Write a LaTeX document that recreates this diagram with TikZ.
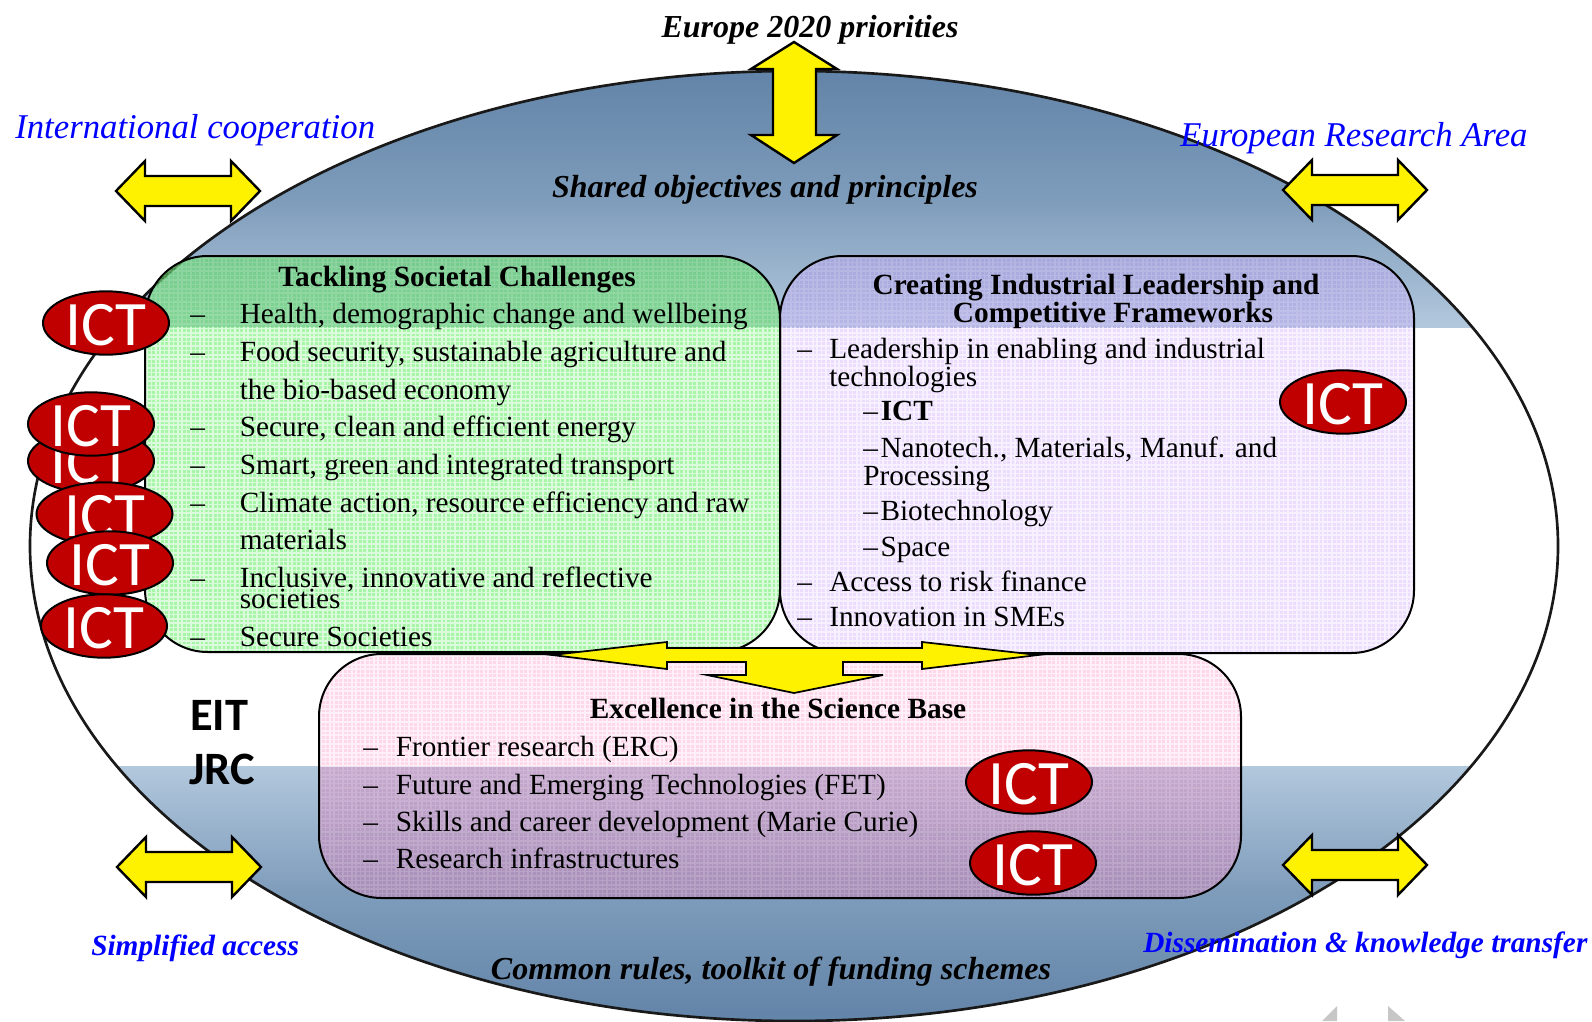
\documentclass[tikz,border=0pt]{standalone}
\usepackage{fontspec}
\setmainfont{Liberation Serif}
\newfontfamily\calib{Carlito}
\definecolor{bandDark}{RGB}{98,132,168}
\definecolor{bandLight}{RGB}{178,200,221}
\definecolor{ictred}{RGB}{192,0,0}
\definecolor{boxgreen}{RGB}{91,225,91}
\definecolor{greenlift}{RGB}{170,255,170}
\definecolor{boxpurple}{RGB}{197,151,255}
\definecolor{boxpink}{RGB}{255,20,137}
\definecolor{pinklift}{RGB}{235,175,210}
\definecolor{bluetext}{RGB}{0,0,255}
\usetikzlibrary{shapes.geometric}
\tikzset{
  x=0.75pt,y=-0.75pt,
  arrowshape/.style={draw=black,line width=1.8pt,fill=yellow,line join=miter},
  boxshape/.style={draw=black,line width=1.5pt,rounded corners=47pt},
  boxfill/.style={rounded corners=47pt},
  gridline/.style={draw=white,line width=1.2pt},
  ict/.style={ellipse,draw=black,line width=1.5pt,fill=ictred,text=white,inner sep=0pt,
     minimum width=94.5pt,minimum height=47pt,text height=33.6pt,text depth=0pt,
     font=\calib\fontsize{47.5}{47.5}\selectfont},
  bodytext/.style={anchor=base west,inner sep=0pt,font=\fontsize{21.95}{24}\selectfont},
  boldtitle/.style={anchor=base,inner sep=0pt,font=\bfseries\fontsize{22}{24}\selectfont},
  bigbi/.style={anchor=base,inner sep=0pt,font=\bfseries\itshape\fontsize{24}{26}\selectfont},
  blueit/.style={anchor=base west,inner sep=0pt,text=bluetext,font=\itshape\fontsize{26.05}{28}\selectfont},
  bluebi/.style={anchor=base west,inner sep=0pt,text=bluetext,font=\bfseries\itshape\fontsize{22}{24}\selectfont},
  eitjrc/.style={anchor=base west,inner sep=0pt,font=\calib\bfseries\fontsize{34.8}{36}\selectfont}
}
\newcommand{\HArrow}[2]{% centre x, centre y
  \draw[arrowshape] (#1-72,#2) -- (#1-43,#2-30) -- (#1-43,#2-15) -- (#1+43,#2-15) -- (#1+43,#2-30)
    -- (#1+72,#2) -- (#1+43,#2+30) -- (#1+43,#2+15) -- (#1-43,#2+15) -- (#1-43,#2+30) -- cycle;}
\newcommand{\BodyLine}[5]{% name dashx textx y text
  \node[bodytext] (#1d) at (#2,#4) {–};
  \node[bodytext] (#1) at (#3,#4) {#5};}
\newcommand{\SubDash}{–\hspace{2pt}}
% woven texture: x0 y0 x1 y1 ; x-list ; y-list
\newcommand{\Texture}[6]{%
  \begin{scope}
    \clip[boxfill] (#1,#2) rectangle (#3,#4);
    \begin{scope}
      \clip (0,327) rectangle (1592,766);
      \draw[gridline,opacity=.6]
        \foreach \gx in {#5} {(\gx,#2) -- (\gx,#4)}
        \foreach \gy in {#6} {(#1,\gy) -- (#3,\gy)};
    \end{scope}
    \begin{scope}
      \clip (0,0) rectangle (1592,327) (0,766) rectangle (1592,1021);
      \draw[gridline,opacity=.16]
        \foreach \gx in {#5} {(\gx,#2) -- (\gx,#4)}
        \foreach \gy in {#6} {(#1,\gy) -- (#3,\gy)};
    \end{scope}
  \end{scope}}
\begin{document}
\begin{tikzpicture}
\useasboundingbox (0,0) rectangle (1592,1021);
% ellipse bands
\begin{scope}
  \clip (794,546) ellipse [x radius=764,y radius=475];
  \shade[top color=bandDark,bottom color=bandLight,middle color=bandDark!65!bandLight] (0,71) rectangle (1592,327);
  \shade[top color=bandLight,bottom color=bandDark,middle color=bandDark!65!bandLight] (0,766) rectangle (1592,1021);
\end{scope}
\draw[black!90,line width=2pt] (794,546) ellipse [x radius=764,y radius=475];
% faint marks at bottom right
\fill[black!22] (1322,1021) -- (1337,1006) -- (1337,1021) -- cycle;
\fill[black!22] (1388,1021) -- (1388,1006) -- (1405,1021) -- cycle;
% boxes
\path[fill=boxgreen,fill opacity=.55,boxfill] (145,256) rectangle (780,652);
\path[fill=boxpurple,fill opacity=.33,boxfill] (780,256) rectangle (1414,653);
\path[fill=boxpink,fill opacity=.17,boxfill] (319,654) rectangle (1241,898);
\begin{scope}
  \clip[boxfill] (145,256) rectangle (780,652);
  \fill[greenlift,fill opacity=.5] (145,327) rectangle (780,652);
\end{scope}
\begin{scope}
  \clip[boxfill] (319,654) rectangle (1241,898);
  \fill[pinklift,fill opacity=.22] (319,766) rectangle (1241,898);
\end{scope}
\Texture{145}{256}{780}{652}{147,151.4,...,780}{258,262.4,...,652}
\Texture{780}{256}{1414}{653}{782,786.4,...,1414}{258,262.4,...,653}
\Texture{319}{654}{1241}{898}{321,325.4,...,1241}{656,660.4,...,898}
\draw[boxshape] (145,256) rectangle (780,652);
\draw[boxshape] (780,256) rectangle (1414,653);
\draw[boxshape] (319,654) rectangle (1241,898);
% arrows
\draw[arrowshape] (794,42) -- (837,69) -- (816,69) -- (816,135) -- (837,135) -- (794,163)
  -- (751,135) -- (773,135) -- (773,69) -- (751,69) -- cycle;
\HArrow{188}{191}
\HArrow{1355}{190}
\HArrow{189}{867}
\HArrow{1355}{865}
\draw[arrowshape,line width=1.3pt] (552,655) -- (667,642) -- (667,648) -- (922,648) -- (922,642) -- (1038,655)
  -- (922,669) -- (922,662) -- (843,662) -- (843,675) -- (883,675) -- (794,693) -- (707,675)
  -- (746,675) -- (746,662) -- (667,662) -- (667,669) -- cycle;
% outer labels
\node[bigbi] (europe) at (810,37) {Europe 2020 priorities};
\node[bigbi] (shared) at (765,197) {Shared objectives and principles};
\node[bigbi] (common) at (771,979) {Common rules, toolkit of funding schemes};
\node[blueit] (intl) at (15,138) {International cooperation};
\node[blueit] (era) at (1180,146) {European Research Area};
\node[bluebi] (simple) at (91,955) {Simplified access};
\node[bluebi] (dissem) at (1143,952) {Dissemination \& knowledge transfer};
% green
\node[boldtitle] (gt) at (457,286) {Tackling Societal Challenges};
\BodyLine{g1}{190}{239.5}{323}{Health, demographic change and wellbeing}
\BodyLine{g2}{190}{239.5}{361}{Food security, sustainable agriculture and}
\node[bodytext] (g2b) at (239.5,399) {the bio-based economy};
\BodyLine{g3}{190}{239.5}{436}{Secure, clean and efficient energy}
\BodyLine{g4}{190}{239.5}{474}{Smart, green and integrated transport}
\BodyLine{g5}{190}{239.5}{512}{Climate action, resource efficiency and raw}
\node[bodytext] (g5b) at (239.5,549) {materials};
\BodyLine{g6}{190}{239.5}{587}{Inclusive, innovative and reflective}
\node[bodytext] (g6b) at (239.5,608) {societies};
\BodyLine{g7}{190}{239.5}{646}{Secure Societies}
% purple
\node[boldtitle] (pt1) at (1096,294) {Creating Industrial Leadership and};
\node[boldtitle] (pt2) at (1113,322) {Competitive Frameworks};
\BodyLine{p1}{797}{829}{358}{Leadership in enabling and industrial}
\node[bodytext] (p1b) at (829,386) {technologies};
\node[bodytext] (p2) at (863,420) {\SubDash\textbf{ICT}};
\node[bodytext] (p3) at (863,457) {\SubDash Nanotech., Materials, Manuf. and};
\node[bodytext] (p3b) at (863,485) {Processing};
\node[bodytext] (p4) at (863,520) {\SubDash Biotechnology};
\node[bodytext] (p5) at (863,556) {\SubDash Space};
\BodyLine{p6}{797}{829}{591}{Access to risk finance}
\BodyLine{p7}{797}{829}{626}{Innovation in SMEs}
% pink
\node[boldtitle] (kt) at (778,718) {Excellence in the Science Base};
\BodyLine{k1}{363}{395.5}{756}{Frontier research (ERC)}
\BodyLine{k2}{363}{395.5}{794}{Future and Emerging Technologies (FET)}
\BodyLine{k3}{363}{395.5}{831}{Skills and career development (Marie Curie)}
\BodyLine{k4}{363}{395.5}{868}{Research infrastructures}
% EIT JRC
\node[eitjrc] (eit) at (190,730) {EIT};
\node[eitjrc] (jrc) at (189,784) {JRC};
% ICT ellipses
\node[ict] (i1) at (106,323) {ICT};
\node[ict] (i2) at (91,461) {ICT};
\node[ict] (i3) at (91,424) {ICT};
\node[ict,minimum width=102pt,minimum height=46pt] (i4) at (104.5,514) {ICT};
\node[ict] (i5) at (110,563) {ICT};
\node[ict] (i6) at (104,626) {ICT};
\node[ict] (i7) at (1343,402) {ICT};
\node[ict] (i8) at (1029,782) {ICT};
\node[ict] (i9) at (1033,863) {ICT};
\end{tikzpicture}
\end{document}
